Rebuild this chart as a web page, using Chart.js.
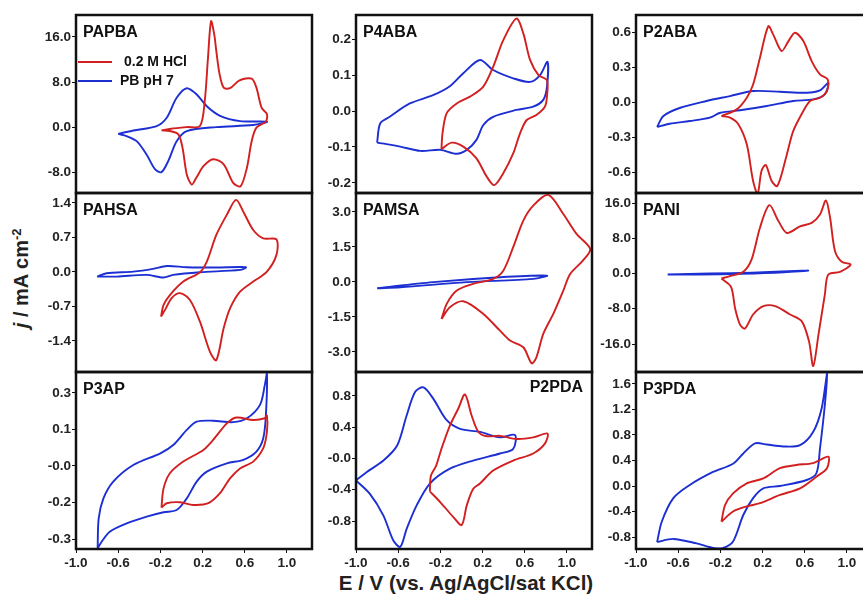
<!DOCTYPE html>
<html>
<head>
<meta charset="utf-8">
<script src="https://cdn.jsdelivr.net/npm/chart.js@4.4.1/dist/chart.umd.min.js"></script>
<style>
  body { margin: 0; width: 863px; height: 595px; overflow: hidden; background: #fff; position: relative;
         font-family: "Liberation Sans", Arial, sans-serif; }
  canvas { position: absolute; }
  #ytitle { position: absolute; left: -79px; top: 266px; width: 200px; text-align: center;
            font-size: 20px; font-weight: bold; color: #222; transform: rotate(-90deg); white-space: nowrap; }
  #ytitle sup { font-size: 13px; }
  #xtitle { position: absolute; left: 266px; top: 571px; width: 400px; text-align: center;
            font-size: 20.5px; font-weight: bold; color: #222; white-space: nowrap; }
</style>
</head>
<body>
<div id="ytitle"><i>j</i> / mA cm<sup>-2</sup></div>
<div id="xtitle">E / V (vs. Ag/AgCl/sat KCl)</div>
<script>
// [E (V), j (mA cm-2)], red = 0.2 M HCl, blue = PB pH 7
const papbaHcl = [[-0.19,-0.59],[-0.10,-0.3],[0.05,0.0],[0.175,0.2],[0.22,4.6],[0.25,12],[0.28,18.8],[0.31,16.5],[0.33,13.5],[0.36,9.5],[0.40,7.0],[0.46,6.9],[0.55,8.3],[0.665,8.6],[0.71,7.0],[0.76,3.4],[0.81,2.3],[0.80,1.0],[0.71,-0.1],[0.665,-2.5],[0.62,-7.2],[0.56,-10.5],[0.49,-9.9],[0.40,-6.6],[0.30,-5.7],[0.21,-6.9],[0.14,-9.0],[0.097,-10.2],[0.05,-8.4],[0.01,-3.7],[-0.03,-1.3],[-0.11,-0.7],[-0.19,-0.59]];
const papbaPb = [[-0.60,-1.2],[-0.457,-0.6],[-0.235,0.18],[-0.14,1.66],[-0.046,5.2],[0.05,6.9],[0.144,5.8],[0.24,3.7],[0.365,2.0],[0.555,1.07],[0.81,0.95],[0.68,0.36],[0.33,0.0],[0.05,-0.7],[-0.046,-2.5],[-0.125,-6.0],[-0.19,-8.0],[-0.25,-7.5],[-0.33,-4.9],[-0.425,-2.5],[-0.52,-1.6],[-0.60,-1.2]];

const p4abaHcl = [[-0.19,-0.106],[-0.18,-0.062],[-0.14,-0.006],[-0.045,0.021],[0.08,0.04],[0.207,0.068],[0.30,0.123],[0.396,0.197],[0.52,0.257],[0.586,0.216],[0.65,0.142],[0.73,0.10],[0.81,0.086],[0.81,0.04],[0.79,0.012],[0.71,-0.011],[0.618,-0.025],[0.555,-0.062],[0.49,-0.118],[0.396,-0.173],[0.31,-0.206],[0.24,-0.183],[0.14,-0.131],[0.017,-0.099],[-0.093,-0.088],[-0.19,-0.106]];
const p4abaPb = [[-0.80,-0.088],[-0.77,-0.034],[-0.68,-0.016],[-0.49,0.021],[-0.27,0.044],[-0.11,0.069],[0.017,0.105],[0.175,0.142],[0.30,0.114],[0.49,0.091],[0.65,0.081],[0.745,0.10],[0.815,0.137],[0.81,0.067],[0.775,0.031],[0.68,0.012],[0.52,0.003],[0.30,-0.016],[0.207,-0.039],[0.14,-0.081],[0.05,-0.108],[-0.045,-0.119],[-0.20,-0.108],[-0.39,-0.111],[-0.58,-0.099],[-0.71,-0.092],[-0.80,-0.088]];

const p2abaHcl = [[-0.19,-0.12],[-0.045,-0.063],[0.05,0.037],[0.11,0.15],[0.175,0.38],[0.254,0.65],[0.30,0.58],[0.38,0.437],[0.444,0.52],[0.507,0.594],[0.586,0.523],[0.665,0.351],[0.744,0.237],[0.817,0.194],[0.81,0.094],[0.744,0.037],[0.65,0.009],[0.586,-0.077],[0.49,-0.249],[0.43,-0.449],[0.34,-0.72],[0.286,-0.677],[0.23,-0.54],[0.19,-0.59],[0.153,-0.786],[0.11,-0.677],[0.05,-0.363],[-0.03,-0.19],[-0.109,-0.134],[-0.19,-0.12]];
const p2abaPb = [[-0.80,-0.214],[-0.74,-0.12],[-0.58,-0.049],[-0.33,0.009],[-0.109,0.051],[0.11,0.094],[0.365,0.088],[0.618,0.08],[0.744,0.10],[0.823,0.166],[0.79,0.066],[0.68,0.023],[0.49,0.009],[0.24,-0.034],[-0.014,-0.071],[-0.20,-0.092],[-0.30,-0.134],[-0.49,-0.163],[-0.68,-0.186],[-0.80,-0.214]];

const pahsaHcl = [[-0.194,-0.907],[-0.17,-0.67],[-0.11,-0.47],[0.017,-0.197],[0.175,-0.006],[0.24,0.21],[0.33,0.75],[0.43,1.16],[0.517,1.46],[0.586,1.22],[0.68,0.85],[0.775,0.68],[0.90,0.66],[0.90,0.345],[0.81,0.006],[0.68,-0.197],[0.555,-0.40],[0.46,-0.74],[0.40,-1.14],[0.33,-1.79],[0.27,-1.62],[0.175,-1.01],[0.08,-0.57],[-0.014,-0.43],[-0.093,-0.53],[-0.156,-0.77],[-0.194,-0.907]];
const pahsaPb = [[-0.80,-0.095],[-0.71,-0.027],[-0.457,0.006],[-0.27,0.061],[-0.14,0.12],[0.05,0.095],[0.33,0.088],[0.61,0.095],[0.555,0.04],[0.175,-0.006],[-0.08,-0.06],[-0.17,-0.115],[-0.33,-0.06],[-0.614,-0.095],[-0.80,-0.095]];

const pamsaHcl = [[-0.19,-1.59],[-0.14,-0.94],[-0.045,-0.37],[0.11,-0.086],[0.30,0.13],[0.396,0.48],[0.49,1.49],[0.586,2.63],[0.68,3.27],[0.823,3.73],[0.965,2.91],[1.09,2.06],[1.22,1.41],[1.15,0.91],[1.03,0.34],[0.965,-0.37],[0.87,-1.37],[0.775,-2.23],[0.71,-3.23],[0.665,-3.49],[0.586,-2.8],[0.46,-2.51],[0.365,-2.09],[0.207,-1.37],[0.017,-0.83],[-0.11,-1.09],[-0.19,-1.59]];
const pamsaPb = [[-0.80,-0.27],[-0.27,-0.01],[0.365,0.2],[0.81,0.27],[0.68,0.13],[0.05,-0.01],[-0.58,-0.23],[-0.80,-0.27]];

const paniHcl = [[-0.19,-1.13],[-0.11,-0.6],[0.017,0.38],[0.096,3.2],[0.175,10.4],[0.264,15.5],[0.35,11.9],[0.43,9.2],[0.555,10.7],[0.665,11.5],[0.744,13.4],[0.80,16.6],[0.84,12.6],[0.886,5.1],[0.95,2.65],[1.035,2.04],[0.934,0.38],[0.823,-0.23],[0.79,-4.8],[0.73,-13.8],[0.68,-21.0],[0.64,-15.4],[0.57,-10.8],[0.46,-9.3],[0.32,-7.4],[0.207,-7.4],[0.11,-9.3],[0.033,-12.5],[-0.014,-11.6],[-0.06,-8.0],[-0.10,-3.0],[-0.19,-1.13]];
const paniPb = [[-0.70,-0.23],[-0.30,0.0],[0.10,0.2],[0.63,0.68],[0.40,0.3],[0.0,-0.05],[-0.40,-0.25],[-0.70,-0.23]];

const p3apHcl = [[-0.19,-0.171],[-0.17,-0.092],[-0.11,-0.03],[0.017,0.018],[0.207,0.066],[0.30,0.107],[0.43,0.175],[0.52,0.199],[0.68,0.189],[0.79,0.196],[0.81,0.207],[0.81,0.141],[0.775,0.073],[0.68,0.018],[0.555,-0.01],[0.46,-0.051],[0.365,-0.112],[0.254,-0.153],[0.11,-0.16],[-0.014,-0.149],[-0.14,-0.153],[-0.19,-0.171]];
const p3apPb = [[-0.795,-0.338],[-0.785,-0.215],[-0.74,-0.133],[-0.647,-0.064],[-0.457,0.004],[-0.20,0.052],[-0.078,0.086],[0.05,0.148],[0.144,0.182],[0.30,0.186],[0.49,0.18],[0.62,0.196],[0.744,0.251],[0.79,0.333],[0.81,0.381],[0.80,0.21],[0.775,0.114],[0.71,0.059],[0.586,0.025],[0.43,0.011],[0.24,-0.023],[0.144,-0.064],[0.05,-0.133],[-0.046,-0.181],[-0.17,-0.19],[-0.33,-0.208],[-0.52,-0.236],[-0.68,-0.27],[-0.757,-0.311],[-0.795,-0.338]];

const p2pdaHcl = [[-0.30,-0.42],[-0.29,-0.22],[-0.24,-0.09],[-0.19,0.124],[-0.11,0.42],[-0.03,0.64],[0.033,0.82],[0.096,0.55],[0.16,0.34],[0.24,0.285],[0.365,0.29],[0.52,0.25],[0.68,0.27],[0.815,0.32],[0.79,0.19],[0.68,0.064],[0.49,-0.026],[0.30,-0.154],[0.175,-0.32],[0.11,-0.39],[0.05,-0.6],[0.002,-0.85],[-0.077,-0.75],[-0.20,-0.56],[-0.30,-0.42]];
const p2pdaPb = [[-1.0,-0.28],[-0.90,-0.175],[-0.74,-0.026],[-0.61,0.166],[-0.52,0.55],[-0.44,0.85],[-0.36,0.91],[-0.265,0.76],[-0.14,0.49],[-0.014,0.38],[0.175,0.34],[0.365,0.27],[0.507,0.30],[0.49,0.124],[0.365,0.064],[0.11,-0.026],[-0.11,-0.13],[-0.30,-0.32],[-0.425,-0.6],[-0.52,-0.9],[-0.58,-1.13],[-0.646,-1.05],[-0.74,-0.73],[-0.87,-0.45],[-1.0,-0.28]];

const p3pdaHcl = [[-0.19,-0.56],[-0.156,-0.3],[-0.08,-0.115],[0.05,0.042],[0.207,0.12],[0.365,0.28],[0.52,0.33],[0.68,0.36],[0.823,0.46],[0.81,0.28],[0.71,0.146],[0.555,-0.037],[0.365,-0.14],[0.175,-0.27],[0.05,-0.32],[-0.08,-0.40],[-0.19,-0.56]];
const p3pdaPb = [[-0.80,-0.88],[-0.756,-0.56],[-0.646,-0.19],[-0.49,0.016],[-0.27,0.22],[-0.08,0.35],[0.017,0.51],[0.128,0.67],[0.24,0.65],[0.396,0.62],[0.555,0.64],[0.68,0.85],[0.76,1.22],[0.813,1.79],[0.79,1.27],[0.744,0.59],[0.71,0.2],[0.618,0.094],[0.365,0.0],[0.207,-0.037],[0.11,-0.19],[0.017,-0.455],[-0.08,-0.87],[-0.173,-0.97],[-0.27,-0.97],[-0.425,-0.9],[-0.646,-0.83],[-0.80,-0.88]];

const seriesNames = ['0.2 M HCl', 'PB pH 7'];
const xTicks = [-1.0, -0.6, -0.2, 0.2, 0.6, 1.0];
const xTickLabels = ['-1.0', '-0.6', '-0.2', '0.2', '0.6', '1.0'];

const panels = [
  {title:'PAPBA', red:papbaHcl, blue:papbaPb, col:0, row:0, yMin:-11.7, yMax:19.9, yTicks:[-8,0,8,16], yLabels:['-8.0','0.0','8.0','16.0'], legend:true},
  {title:'P4ABA', red:p4abaHcl, blue:p4abaPb, col:1, row:0, yMin:-0.228, yMax:0.267, yTicks:[-0.2,-0.1,0,0.1,0.2], yLabels:['-0.2','-0.1','0.0','0.1','0.2']},
  {title:'P2ABA', red:p2abaHcl, blue:p2abaPb, col:2, row:0, yMin:-0.78, yMax:0.746, yTicks:[-0.6,-0.3,0,0.3,0.6], yLabels:['-0.6','-0.3','0.0','0.3','0.6']},
  {title:'PAHSA', red:pahsaHcl, blue:pahsaPb, col:0, row:1, yMin:-2.03, yMax:1.6, yTicks:[-1.4,-0.7,0,0.7,1.4], yLabels:['-1.4','-0.7','0.0','0.7','1.4']},
  {title:'PAMSA', red:pamsaHcl, blue:pamsaPb, col:1, row:1, yMin:-3.86, yMax:3.81, yTicks:[-3,-1.5,0,1.5,3], yLabels:['-3.0','-1.5','0.0','1.5','3.0']},
  {title:'PANI', red:paniHcl, blue:paniPb, col:2, row:1, yMin:-22.35, yMax:18.27, yTicks:[-16,-8,0,8,16], yLabels:['-16.0','-8.0','0.0','8.0','16.0']},
  {title:'P3AP', red:p3apHcl, blue:p3apPb, col:0, row:2, yMin:-0.341, yMax:0.386, yTicks:[-0.3,-0.15,0,0.15,0.3], yLabels:['-0.3','-0.2','-0.0','0.1','0.3']},
  {title:'P2PDA', red:p2pdaHcl, blue:p2pdaPb, col:1, row:2, yMin:-1.158, yMax:1.107, yTicks:[-0.8,-0.4,0,0.4,0.8], yLabels:['-0.8','-0.4','-0.0','0.4','0.8'], titleRight:true},
  {title:'P3PDA', red:p3pdaHcl, blue:p3pdaPb, col:2, row:2, yMin:-0.988, yMax:1.788, yTicks:[-0.8,-0.4,0,0.4,0.8,1.2,1.6], yLabels:['-0.8','-0.4','0.0','0.4','0.8','1.2','1.6']}
];

const RED = '#d21f1f';
const BLUE = '#1c2fd2';
const colLeft = [76, 356, 636];
const rowTop = [15, 193, 372];
const rowBottom = [193, 372, 549];
const plotW = 236;
const axisW = 60;
const tickFont = {family: '"Liberation Sans", Arial, sans-serif', weight: 'bold', size: 13.5};

// border, title and legend drawn inside each panel
const panelDeco = {
  id: 'panelDeco',
  afterDraw(chart, args, opts) {
    const {ctx, chartArea: a} = chart;
    ctx.save();
    ctx.strokeStyle = '#111';
    ctx.lineWidth = 2.5;
    ctx.strokeRect(a.left, a.top, a.right - a.left, a.bottom - a.top);
    ctx.fillStyle = '#111';
    ctx.font = 'bold 16px "Liberation Sans", Arial, sans-serif';
    ctx.textBaseline = 'middle';
    if (opts.titleRight) {
      ctx.textAlign = 'right';
      ctx.fillText(opts.title, a.right - 9, a.top + 16);
    } else {
      ctx.textAlign = 'left';
      ctx.fillText(opts.title, a.left + 7, a.top + 18);
    }
    if (opts.legend) {
      ctx.font = 'bold 14px "Liberation Sans", Arial, sans-serif';
      ctx.lineWidth = 1.8;
      chart.data.datasets.forEach((ds, i) => {
        const y = a.top + 47 + i * 19;
        ctx.strokeStyle = ds.borderColor;
        ctx.beginPath();
        ctx.moveTo(a.left + 2, y);
        ctx.lineTo(a.left + 36, y);
        ctx.stroke();
        ctx.fillText(ds.label, a.left + (i === 0 ? 48 : 44), y);
      });
    }
    ctx.restore();
  }
};

function toPoints(arr) {
  return arr.map(d => ({x: d[0], y: d[1]}));
}

panels.forEach(p => {
  const L = colLeft[p.col], T = rowTop[p.row], B = rowBottom[p.row];
  const bottomRow = p.row === 2;
  const padTop = 10, padLeft = 2, padRight = 6, padBot = bottomRow ? 4 : 6, xAxisH = 26;
  const cv = document.createElement('canvas');
  cv.width = padLeft + axisW + plotW + padRight;
  cv.height = padTop + (B - T) + (bottomRow ? xAxisH : 0) + padBot;
  cv.style.left = (L - axisW - padLeft) + 'px';
  cv.style.top = (T - padTop) + 'px';
  document.body.appendChild(cv);

  new Chart(cv, {
    type: 'scatter',
    data: {
      datasets: [
        {label: seriesNames[0], data: toPoints(p.red), borderColor: RED},
        {label: seriesNames[1], data: toPoints(p.blue), borderColor: BLUE}
      ]
    },
    options: {
      responsive: false,
      animation: false,
      devicePixelRatio: 1,
      showLine: true,
      layout: {padding: {left: padLeft, top: padTop, right: padRight, bottom: padBot}},
      elements: {
        point: {radius: 0},
        line: {borderWidth: 1.9, tension: 0.3, fill: false}
      },
      plugins: {
        legend: {display: false},
        tooltip: {enabled: false},
        panelDeco: {title: p.title, titleRight: !!p.titleRight, legend: !!p.legend}
      },
      scales: {
        x: {
          type: 'linear', min: -1.0, max: 1.237,
          display: bottomRow,
          afterBuildTicks: s => { s.ticks = xTicks.map(v => ({value: v})); },
          afterFit: s => {
            if (bottomRow) s.height = xAxisH;
            s.paddingLeft = 0; s.paddingRight = 0;
          },
          grid: {drawOnChartArea: false, drawTicks: true, tickLength: 4, color: '#111'},
          border: {display: false},
          ticks: {autoSkip: false, maxRotation: 0, padding: 2, color: '#222', font: tickFont,
                  callback: (v, i) => xTickLabels[i]}
        },
        y: {
          type: 'linear', min: p.yMin, max: p.yMax,
          afterBuildTicks: s => { s.ticks = p.yTicks.map(v => ({value: v})); },
          afterFit: s => { s.width = axisW; s.paddingTop = 0; s.paddingBottom = 0; },
          grid: {drawOnChartArea: false, drawTicks: true, tickLength: 4, color: '#111'},
          border: {display: false},
          ticks: {autoSkip: false, padding: 1, color: '#222', font: tickFont,
                  callback: (v, i) => p.yLabels[i]}
        }
      }
    },
    plugins: [panelDeco]
  });
});
</script>
</body>
</html>
